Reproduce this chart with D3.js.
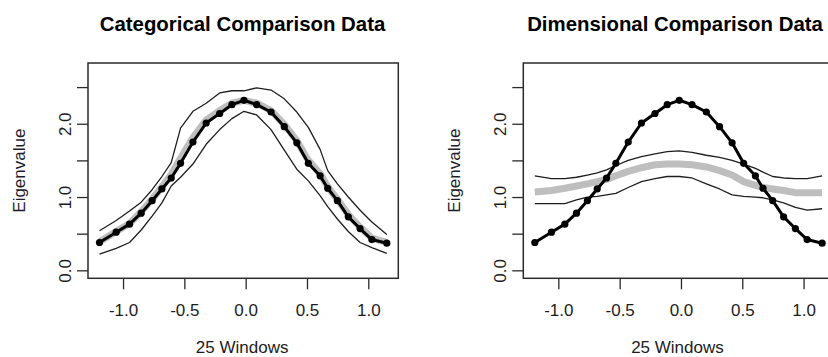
<!DOCTYPE html>
<html>
<head>
<meta charset="utf-8">
<script src="https://cdn.jsdelivr.net/npm/d3@7"></script>
<style>
  html, body { margin: 0; padding: 0; background: #fff; }
  svg { display: block; font-family: "Liberation Sans", Arial, sans-serif; }
</style>
</head>
<body>
<svg id="chart" width="828" height="357"></svg>
<script>
// ---- Data ----
const xWindows = [-1.192, -1.056, -0.947, -0.852, -0.763, -0.683, -0.607, -0.531, -0.430, -0.322,
                  -0.212, -0.112, -0.014, 0.090, 0.207, 0.315, 0.417, 0.511, 0.607, 0.669,
                  0.748, 0.837, 0.933, 1.029, 1.151];
const observed = [0.38, 0.52, 0.63, 0.78, 0.95, 1.11, 1.26, 1.46, 1.75, 2.01,
                  2.14, 2.26, 2.32, 2.26, 2.16, 1.96, 1.74, 1.46, 1.29, 1.12,
                  0.95, 0.73, 0.57, 0.42, 0.37];
const catMean  = [0.39, 0.53, 0.64, 0.80, 0.97, 1.14, 1.31, 1.53, 1.81, 2.05,
                  2.18, 2.28, 2.32, 2.28, 2.18, 1.99, 1.77, 1.50, 1.32, 1.14,
                  0.97, 0.76, 0.59, 0.44, 0.38];
const catUpper = [0.54, 0.68, 0.81, 0.93, 1.10, 1.28, 1.47, 1.94, 2.17, 2.28,
                  2.42, 2.45, 2.45, 2.49, 2.46, 2.34, 2.16, 1.95, 1.65, 1.36,
                  1.18, 1.00, 0.82, 0.66, 0.49];
const catLower = [0.22, 0.30, 0.38, 0.55, 0.74, 0.92, 1.15, 1.27, 1.45, 1.72,
                  1.92, 2.07, 2.17, 2.12, 1.92, 1.64, 1.38, 1.22, 1.02, 0.87,
                  0.70, 0.53, 0.38, 0.31, 0.23];
const dimMean  = [1.07, 1.09, 1.12, 1.15, 1.18, 1.21, 1.24, 1.29, 1.35, 1.40,
                  1.44, 1.45, 1.45, 1.44, 1.41, 1.36, 1.30, 1.21, 1.16, 1.13,
                  1.11, 1.09, 1.06, 1.06, 1.06];
const dimUpper = [1.29, 1.25, 1.25, 1.27, 1.30, 1.33, 1.37, 1.43, 1.50, 1.55,
                  1.59, 1.62, 1.63, 1.61, 1.57, 1.54, 1.50, 1.45, 1.39, 1.34,
                  1.28, 1.26, 1.25, 1.25, 1.29];
const dimLower = [0.91, 0.91, 0.91, 0.96, 1.00, 1.01, 1.03, 1.05, 1.13, 1.21,
                  1.25, 1.28, 1.28, 1.26, 1.18, 1.11, 1.03, 1.01, 1.00, 0.99,
                  0.96, 0.92, 0.86, 0.82, 0.84];
const xTicks = [-1.0, -0.5, 0.0, 0.5, 1.0];
const xTickLabels = ["-1.0", "-0.5", "0.0", "0.5", "1.0"];
const yTicks = [0.0, 0.5, 1.0, 1.5, 2.0, 2.5];
const yTickLabels = ["0.0", "", "1.0", "", "2.0", ""];
const yLimits = [0, 2.72];
const panelTitles = ["Categorical Comparison Data", "Dimensional Comparison Data"];
const xTitle = "25 Windows";
const yTitle = "Eigenvalue";

// ---- Layout ----
const svg = d3.select("#chart");
const panels = [
  { left: 88,    title: panelTitles[0], mean: catMean, upper: catUpper, lower: catLower, titleX: 242.5 },
  { left: 523.3, title: panelTitles[1], mean: dimMean, upper: dimUpper, lower: dimLower, titleX: 675 }
];
const plotW = 310.3, plotTop = 63, plotBottom = 278.3;
const textColor = "#1c1c1c";

function padded(lo, hi) { const p = (hi - lo) * 0.04; return [lo - p, hi + p]; }
const xDom = padded(d3.min(xWindows), d3.max(xWindows));
const yDom = padded(yLimits[0], yLimits[1]);

panels.forEach(p => {
  const g = svg.append("g");
  const x = d3.scaleLinear().domain(xDom).range([p.left, p.left + plotW]);
  const y = d3.scaleLinear().domain(yDom).range([plotBottom, plotTop]);

  const line = arr => d3.line().x((d, i) => x(xWindows[i])).y(d => y(d))(arr);

  // gray mean of comparison data
  g.append("path").attr("d", line(p.mean))
    .attr("fill", "none").attr("stroke", "#bebebe").attr("stroke-width", 7)
    .attr("stroke-linecap", "butt").attr("stroke-linejoin", "round");
  // envelopes
  [p.upper, p.lower].forEach(arr => {
    g.append("path").attr("d", line(arr))
      .attr("fill", "none").attr("stroke", "#1e1e1e").attr("stroke-width", 1.3)
      .attr("stroke-linejoin", "round");
  });
  // observed
  g.append("path").attr("d", line(observed))
    .attr("fill", "none").attr("stroke", "#000").attr("stroke-width", 3)
    .attr("stroke-linejoin", "round");
  g.selectAll("circle.pt").data(observed).join("circle").attr("class", "pt")
    .attr("cx", (d, i) => x(xWindows[i])).attr("cy", d => y(d)).attr("r", 3.6)
    .attr("fill", "#000");

  // box
  g.append("rect").attr("x", p.left).attr("y", plotTop)
    .attr("width", plotW).attr("height", plotBottom - plotTop)
    .attr("fill", "none").attr("stroke", "#2a2a2a").attr("stroke-width", 1.5);

  // x axis
  const xa = g.append("g").attr("transform", `translate(0,${plotBottom})`)
    .call(d3.axisBottom(x).tickValues(xTicks).tickSize(11)
      .tickFormat((d, i) => xTickLabels[i]));
  xa.select(".domain").remove();
  xa.selectAll(".tick line").attr("stroke", "#2a2a2a").attr("stroke-width", 1.3);
  xa.selectAll(".tick text").attr("y", 37.7).attr("dy", 0)
    .attr("font-size", 17).attr("fill", textColor)
    .attr("font-family", "Liberation Sans, Arial, sans-serif");

  // y axis
  const ya = g.append("g").attr("transform", `translate(${p.left},0)`)
    .call(d3.axisLeft(y).tickValues(yTicks).tickSize(11)
      .tickFormat((d, i) => yTickLabels[i]));
  ya.select(".domain").remove();
  ya.selectAll(".tick line").attr("stroke", "#2a2a2a").attr("stroke-width", 1.3);
  ya.selectAll(".tick text").attr("transform", "rotate(-90)")
    .attr("x", 0).attr("y", -17.5).attr("dy", 0)
    .attr("text-anchor", "middle")
    .attr("font-size", 17).attr("fill", textColor)
    .attr("font-family", "Liberation Sans, Arial, sans-serif");

  // titles
  g.append("text").attr("x", p.titleX).attr("y", 30.7)
    .attr("text-anchor", "middle").attr("font-size", 20.4).attr("font-weight", "bold")
    .attr("fill", "#000").text(p.title);
  g.append("text").attr("x", p.left + plotW / 2 - 1).attr("y", 353)
    .attr("text-anchor", "middle").attr("font-size", 17).attr("fill", textColor)
    .text(xTitle);
  g.append("text")
    .attr("transform", `translate(${p.left - 63},${(plotTop + plotBottom) / 2}) rotate(-90)`)
    .attr("text-anchor", "middle").attr("font-size", 17).attr("fill", "#1c1c2c")
    .text(yTitle);
});
</script>
</body>
</html>
